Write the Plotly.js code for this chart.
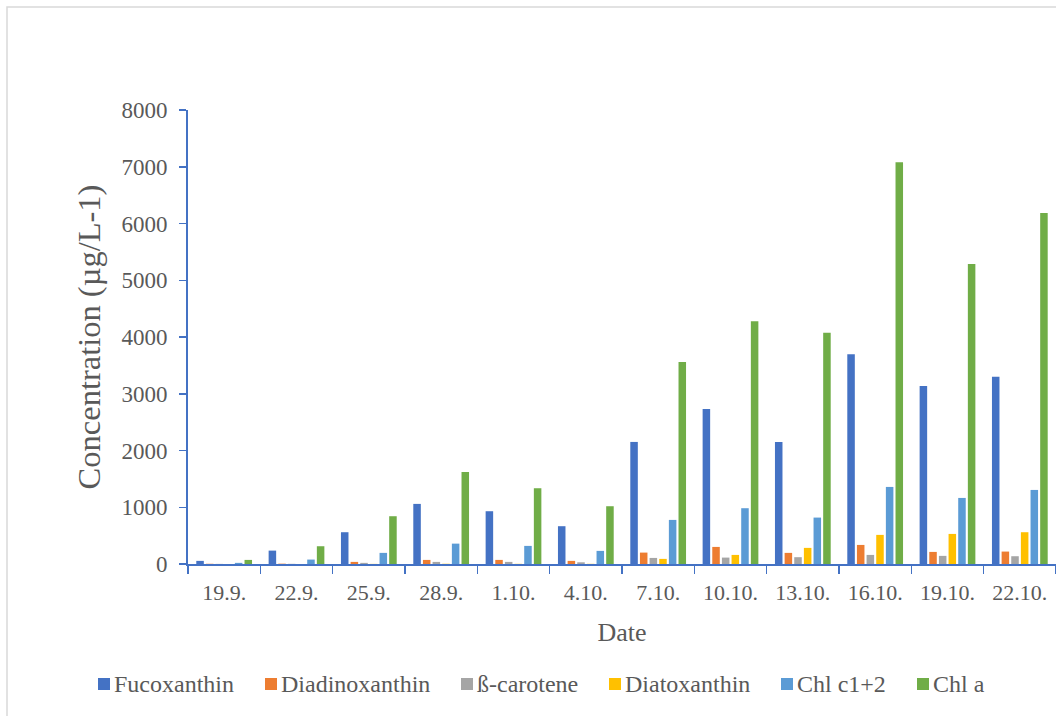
<!DOCTYPE html>
<html>
<head>
<meta charset="utf-8">
<script src="https://cdn.plot.ly/plotly-3.0.1.min.js"></script>
<style>
  html, body { margin: 0; padding: 0; background: #ffffff; }
  #chart { width: 1056px; height: 716px; }
</style>
</head>
<body>
<div id="chart"></div>
<script>
// Sampling dates
const dates = ["19.9.", "22.9.", "25.9.", "28.9.", "1.10.", "4.10.", "7.10.", "10.10.", "13.10.", "16.10.", "19.10.", "22.10."];

// Pigment concentrations (µg/L)
const fucoxanthin    = [55, 236, 560, 1059, 930, 666, 2151, 2732, 2151, 3695, 3137, 3301];
const diadinoxanthin = [4, 6, 37, 72, 72, 55, 201, 301, 196, 336, 213, 219];
const betaCarotene   = [2, 3, 20, 37, 37, 30, 107, 113, 120, 160, 143, 137];
const diatoxanthin   = [0, 0, 2, 4, 3, 3, 90, 160, 284, 513, 530, 560];
const chlC12         = [20, 78, 196, 359, 319, 231, 777, 983, 818, 1358, 1164, 1305];
const chlA           = [72, 313, 842, 1622, 1335, 1018, 3560, 4277, 4076, 7078, 5286, 6185];

const seriesNames  = ["Fucoxanthin", "Diadinoxanthin", "ß-carotene", "Diatoxanthin", "Chl c1+2", "Chl a"];
const seriesValues = [fucoxanthin, diadinoxanthin, betaCarotene, diatoxanthin, chlC12, chlA];
const seriesColors = ["#4472C4", "#ED7D31", "#A5A5A5", "#FFC000", "#5B9BD5", "#70AD47"];

const textFont = "Liberation Serif, Times New Roman, serif";
const textColor = "#595959";
const axisBlue = "#4472C4";

// Page geometry (px) used to place the key below the plot
const W = 1056, H = 716;
const M = { l: 188, r: 0, t: 110, b: 152 };
const plotW = W - M.l - M.r, plotH = H - M.t - M.b;
const toPaperX = px => (px - M.l) / plotW;
const toPaperY = py => (H - M.b - py) / plotH;

// Key: left edge of each swatch, swatch size, row centre
const keyLeft = [98, 265, 461, 609, 781, 917];
const keySwatch = 12, keyRowY = 684;

const traces = seriesNames.map((name, i) => ({
  type: "bar",
  name: name,
  x: dates,
  y: seriesValues[i],
  marker: { color: seriesColors[i] },
  showlegend: false,
  hoverinfo: "x+y+name"
}));

const keyShapes = seriesNames.map((name, i) => ({
  type: "rect",
  xref: "paper", yref: "paper",
  x0: toPaperX(keyLeft[i]), x1: toPaperX(keyLeft[i] + keySwatch),
  y0: toPaperY(keyRowY + keySwatch / 2), y1: toPaperY(keyRowY - keySwatch / 2),
  line: { width: 0 },
  fillcolor: seriesColors[i]
}));

const keyLabels = seriesNames.map((name, i) => ({
  xref: "paper", yref: "paper",
  x: toPaperX(keyLeft[i] + keySwatch + 2),
  y: toPaperY(keyRowY),
  xanchor: "left", yanchor: "middle",
  text: name,
  showarrow: false,
  font: { family: textFont, color: textColor, size: 24 }
}));

const frame = {
  type: "rect",
  xref: "paper", yref: "paper",
  x0: toPaperX(7), x1: toPaperX(W + 20),
  y0: toPaperY(H + 20), y1: toPaperY(7),
  line: { color: "#d9d9d9", width: 1.5 },
  fillcolor: "rgba(0,0,0,0)",
  layer: "below"
};

const layout = {
  width: W,
  height: H,
  margin: M,
  paper_bgcolor: "#ffffff",
  plot_bgcolor: "#ffffff",
  barmode: "group",
  bargap: 0.2,
  bargroupgap: 0.22,
  showlegend: false,
  font: { family: textFont, color: textColor, size: 22 },
  xaxis: {
    type: "category",
    showline: true,
    linecolor: axisBlue,
    linewidth: 2,
    ticks: "outside",
    tickson: "boundaries",
    ticklen: 8,
    tickwidth: 1.5,
    tickcolor: axisBlue,
    ticklabelstandoff: 8,
    showgrid: false,
    zeroline: false,
    tickfont: { family: textFont, color: textColor, size: 22 },
    title: { text: "Date", font: { family: textFont, color: textColor, size: 26 }, standoff: 18 },
    automargin: false
  },
  yaxis: {
    range: [0, 8000],
    tickvals: [0, 1000, 2000, 3000, 4000, 5000, 6000, 7000, 8000],
    ticktext: ["0", "1000", "2000", "3000", "4000", "5000", "6000", "7000", "8000"],
    showline: true,
    linecolor: axisBlue,
    linewidth: 2,
    ticks: "outside",
    ticklen: 7,
    tickwidth: 1.5,
    tickcolor: axisBlue,
    ticklabelstandoff: 7,
    showgrid: false,
    zeroline: false,
    tickfont: { family: textFont, color: textColor, size: 23 },
    title: { text: "Concentration (µg/L-1)", font: { family: textFont, color: textColor, size: 32.5 }, standoff: 11 },
    automargin: false
  },
  shapes: [frame].concat(keyShapes),
  annotations: keyLabels
};

Plotly.newPlot("chart", traces, layout, { displayModeBar: false, staticPlot: true });
</script>
</body>
</html>
